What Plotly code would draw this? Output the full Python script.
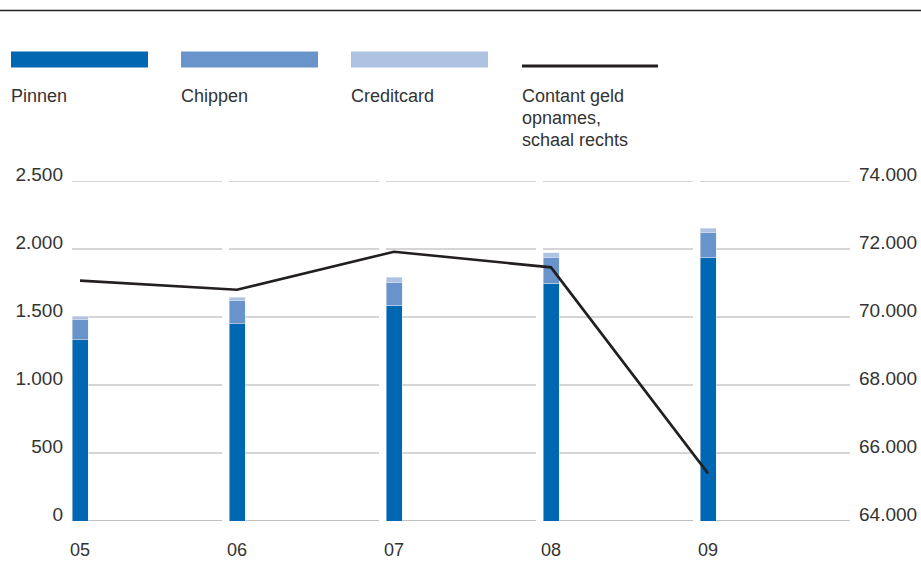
import plotly.graph_objects as go

# ---- data ----
years = ["05", "06", "07", "08", "09"]
pinnen = [1331, 1449, 1588, 1750, 1941]
chippen = [147, 169, 169, 184, 177]
creditcard = [29, 29, 37, 37, 36]
contant = [71070, 70800, 71920, 71460, 65400]

left_ticks = [0, 500, 1000, 1500, 2000, 2500]
right_ticks = [64000, 66000, 68000, 70000, 72000, 74000]

# ---- styling ----
W, H = 921, 582
L, R = 72, 850          # plot area left/right (px)
T, B = 181.3, 521       # plot area top/bottom (px)
step = 157.0            # px per category
bar_px = 16.0
seg_px = 150.0

C_PIN = "#0067b3"
C_CHIP = "#6893cb"
C_CRED = "#aec2e2"
C_LINE = "#231f20"
C_GRID = "#ababab"
C_TEXT = "#333333"
FONT = "Liberation Sans, Arial, sans-serif"

x_pos = list(range(len(years)))
x0 = -(bar_px / 2) / step
x1 = (R - L - bar_px / 2) / step
bw = bar_px / step


def px_x(p):
    return (p - L) / (R - L)


def px_y(p):
    return (B - p) / (B - T)


fig = go.Figure()
fig.add_trace(go.Bar(x=x_pos, y=pinnen, name="Pinnen", marker_color=C_PIN, width=bw))
fig.add_trace(go.Bar(x=x_pos, y=chippen, name="Chippen", marker_color=C_CHIP, width=bw))
fig.add_trace(go.Bar(x=x_pos, y=creditcard, name="Creditcard", marker_color=C_CRED, width=bw))
fig.add_trace(go.Scatter(x=x_pos, y=contant, name="Contant geld opnames, schaal rechts",
                         mode="lines", line=dict(color=C_LINE, width=2.6), yaxis="y2"))

shapes = []
# segmented gridlines per category band
for v in left_ticks:
    for k in x_pos:
        shapes.append(dict(type="line", xref="x", yref="y",
                           x0=k + x0, x1=k + x0 + seg_px / step, y0=v, y1=v,
                           line=dict(color=C_GRID, width=1.6 if v == 0 else 1),
                           layer="below"))
# top rule
shapes.append(dict(type="line", xref="paper", yref="paper",
                   x0=px_x(0), x1=px_x(W), y0=px_y(11), y1=px_y(11),
                   line=dict(color="#222222", width=1.5)))
# legend swatches
legend_items = [("Pinnen", C_PIN, 11), ("Chippen", C_CHIP, 181), ("Creditcard", C_CRED, 351)]
for name, col, lx in legend_items:
    shapes.append(dict(type="rect", xref="paper", yref="paper",
                       x0=px_x(lx), x1=px_x(lx + 137), y0=px_y(68), y1=px_y(52),
                       line=dict(width=0), fillcolor=col))
shapes.append(dict(type="line", xref="paper", yref="paper",
                   x0=px_x(522), x1=px_x(658), y0=px_y(66.5), y1=px_y(66.5),
                   line=dict(color=C_LINE, width=3)))

annotations = []
for name, col, lx in legend_items:
    annotations.append(dict(text=name, xref="paper", yref="paper",
                            x=px_x(lx - 2), y=px_y(96), xanchor="left", yanchor="middle",
                            showarrow=False, font=dict(size=18, color=C_TEXT, family=FONT)))
line_label = ["Contant geld", "opnames,", "schaal rechts"]
for i, txt in enumerate(line_label):
    annotations.append(dict(text=txt, xref="paper", yref="paper",
                            x=px_x(520), y=px_y(96 + 22 * i), xanchor="left", yanchor="middle",
                            showarrow=False, font=dict(size=18, color=C_TEXT, family=FONT)))

fig.update_layout(
    width=W, height=H,
    margin=dict(l=L, r=W - R, t=T, b=H - B, pad=0, autoexpand=False),
    barmode="stack",
    showlegend=False,
    plot_bgcolor="white", paper_bgcolor="white",
    separators=",.",
    font=dict(family=FONT, size=18, color=C_TEXT),
    xaxis=dict(range=[x0, x1], tickvals=x_pos, ticktext=years, showgrid=False,
               zeroline=False, showline=False, ticks="", ticklabelstandoff=16,
               automargin=False, tickfont=dict(size=18, color=C_TEXT)),
    yaxis=dict(range=[0, 2500], tickvals=left_ticks, tickformat=",d", showgrid=False,
               zeroline=False, showline=False, ticks="", ticklabelstandoff=8,
               automargin=False, ticklabelshift=-7, tickfont=dict(size=19, color=C_TEXT)),
    yaxis2=dict(range=[64000, 74000], tickvals=right_ticks, tickformat=",d", overlaying="y",
                side="right", showgrid=False, zeroline=False, showline=False, ticks="",
                automargin=False, ticklabelstandoff=8, ticklabelshift=-7,
                tickfont=dict(size=19, color=C_TEXT)),
    shapes=shapes,
    annotations=annotations,
)

fig.write_html("out.html", config={"displayModeBar": False},
               post_script="document.body.style.margin='0';document.body.style.overflow='hidden';")
